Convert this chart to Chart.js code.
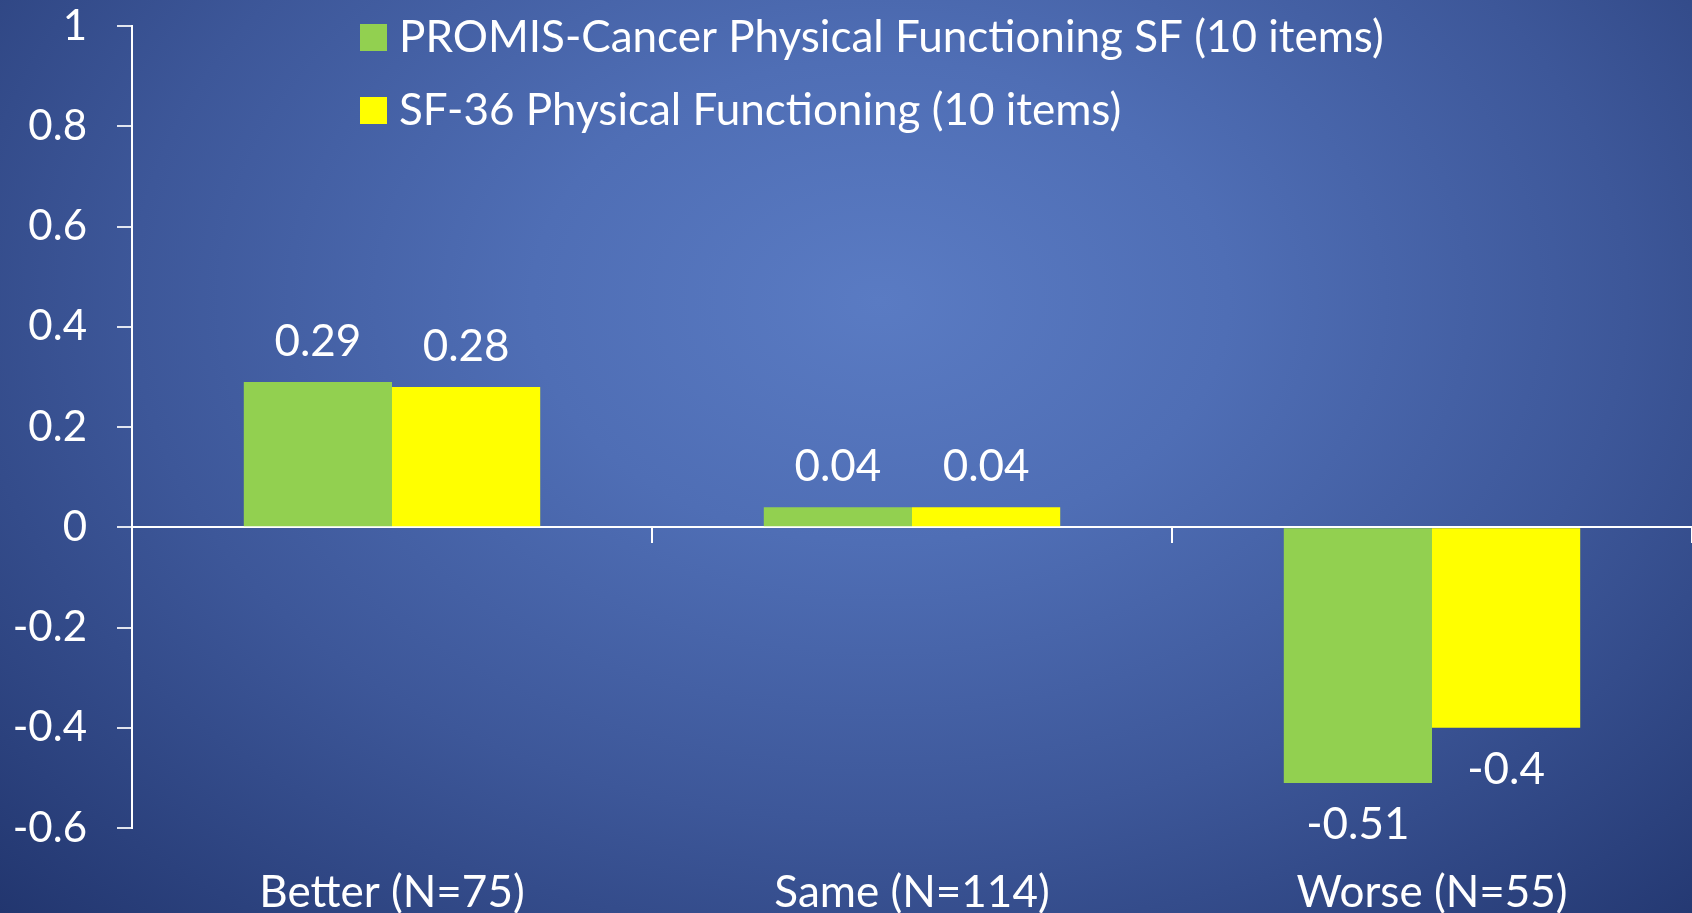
<!DOCTYPE html>
<html>
<head>
<meta charset="utf-8">
<script src="https://cdn.jsdelivr.net/npm/chart.js@4/dist/chart.umd.min.js"></script>
<style>
  html, body { margin: 0; padding: 0; }
  body {
    width: 1692px; height: 913px; overflow: hidden;
    background: radial-gradient(ellipse farthest-corner at 52% 33%, #5a7bc3 0%, #4f6eb5 28%, #3d5799 60%, #22366f 100%);
  }
  #wrap { position: relative; width: 1692px; height: 913px; }
</style>
</head>
<body>
<div id="wrap"><canvas id="grafico"></canvas></div>
<script>
const categorias = ['Better (N=75)', 'Same (N=114)', 'Worse (N=55)']
const promis = [0.29, 0.04, -0.51]
const sf36 = [0.28, 0.04, -0.4]
const nomesSeries = ['PROMIS-Cancer Physical Functioning SF (10 items)', 'SF-36 Physical Functioning (10 items)']
const ticksY = [-0.6, -0.4, -0.2, 0, 0.2, 0.4, 0.6, 0.8, 1]

const fonte = "Lato, 'Open Sans', sans-serif"

// rotulos de valor em cima/embaixo das barras
const rotulos = {
    id: 'rotulos',
    afterDatasetsDraw(chart) {
        const ctx = chart.ctx
        ctx.save()
        ctx.font = '44px ' + fonte
        ctx.fillStyle = '#ffffff'
        ctx.textAlign = 'center'
        ctx.textBaseline = 'middle'
        chart.data.datasets.forEach((ds, i) => {
            chart.getDatasetMeta(i).data.forEach((bar, j) => {
                const v = ds.data[j]
                const y = v >= 0 ? bar.y - 40 : bar.y + 42
                ctx.fillText(String(v), bar.x, y)
            })
        })
        ctx.restore()
    }
}

// legenda no canto de cima, uma linha por serie
const legenda = {
    id: 'legenda',
    afterDraw(chart) {
        const ctx = chart.ctx
        ctx.save()
        ctx.font = '44px ' + fonte
        ctx.textBaseline = 'middle'
        chart.data.datasets.forEach((ds, i) => {
            const cy = 37 + i * 73
            ctx.fillStyle = ds.backgroundColor
            ctx.fillRect(360, cy - 13, 27, 27)
            ctx.fillStyle = '#ffffff'
            ctx.fillText(ds.label, 399, cy + 1)
        })
        ctx.restore()
    }
}

const data = {
    labels: categorias,
    datasets: [{
        label: nomesSeries[0],
        data: promis,
        backgroundColor: '#92D050',
        categoryPercentage: 0.57,
        barPercentage: 1.0
    }, {
        label: nomesSeries[1],
        data: sf36,
        backgroundColor: '#FFFF00',
        categoryPercentage: 0.57,
        barPercentage: 1.0
    }]
}

const config = {
    type: 'bar',
    data: data,
    options: {
        responsive: true,
        maintainAspectRatio: false,
        animation: false,
        layout: { padding: 0 },
        plugins: {
            legend: { display: false },
            tooltip: { enabled: false }
        },
        scales: {
            x: {
                position: 'bottom',
                grid: { display: false },
                border: { display: false },
                ticks: {
                    color: '#ffffff',
                    font: { family: fonte, size: 44 },
                    padding: 30,
                    maxRotation: 0
                },
                afterFit(scale) { scale.height = 85 }
            },
            x2: {
                type: 'category',
                position: { y: 0 },
                offset: true,
                grid: {
                    offset: true,
                    drawOnChartArea: false,
                    tickLength: 15,
                    lineWidth: 2,
                    color: c => (c.index === 0 || c.index === categorias.length) ? 'rgba(0,0,0,0)' : '#ffffff'
                },
                border: { color: '#ffffff', width: 2 },
                ticks: { display: false }
            },
            y: {
                min: -0.6,
                max: 1,
                afterBuildTicks(scale) { scale.ticks = ticksY.map(v => ({ value: v })) },
                grid: {
                    drawOnChartArea: false,
                    tickLength: 15,
                    lineWidth: 2,
                    color: 'rgba(255,255,255,0.85)'
                },
                border: { color: '#ffffff', width: 2 },
                ticks: {
                    color: '#ffffff',
                    font: { family: fonte, size: 42 },
                    padding: 30,
                    callback: v => String(+v.toFixed(1))
                },
                afterFit(scale) {
                    scale.width = 132
                    scale.paddingTop = 26
                    scale.paddingBottom = 0
                }
            }
        }
    },
    plugins: [rotulos, legenda]
}

new Chart(document.getElementById('grafico'), config)
</script>
</body>
</html>
